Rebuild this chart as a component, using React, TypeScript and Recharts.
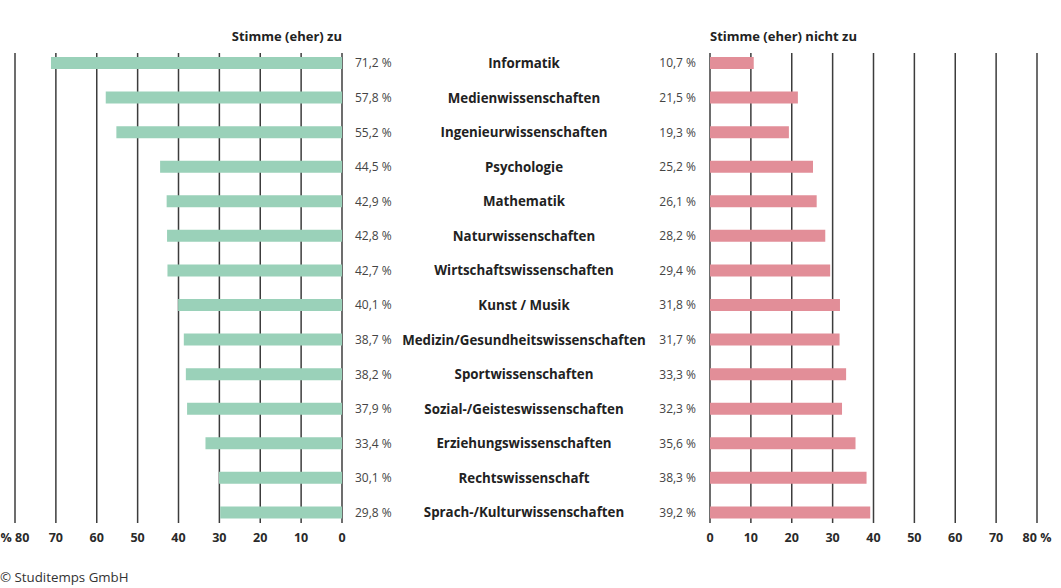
import React from "react";
import { BarChart, Bar, XAxis, YAxis, CartesianGrid } from "recharts";

const categories = [
  "Informatik",
  "Medienwissenschaften",
  "Ingenieurwissenschaften",
  "Psychologie",
  "Mathematik",
  "Naturwissenschaften",
  "Wirtschaftswissenschaften",
  "Kunst / Musik",
  "Medizin/Gesundheitswissenschaften",
  "Sportwissenschaften",
  "Sozial-/Geisteswissenschaften",
  "Erziehungswissenschaften",
  "Rechtswissenschaft",
  "Sprach-/Kulturwissenschaften",
];

const agreeValues = [71.2, 57.8, 55.2, 44.5, 42.9, 42.8, 42.7, 40.1, 38.7, 38.2, 37.9, 33.4, 30.1, 29.8];
const disagreeValues = [10.7, 21.5, 19.3, 25.2, 26.1, 28.2, 29.4, 31.8, 31.7, 33.3, 32.3, 35.6, 38.3, 39.2];
const axisTicks = [0, 10, 20, 30, 40, 50, 60, 70, 80];

const data = categories.map((category, i) => ({
  category,
  agree: agreeValues[i],
  disagree: disagreeValues[i],
}));

const W = 1061;
const H = 588;
const FONT = "'Open Sans', 'Noto Sans', sans-serif";
const GREEN = "#9ad1b9";
const PINK = "#e28e98";
const GRID = "#3c3c3c";

const fmt = (v: number) => v.toFixed(1).replace(".", ",") + " %";

const tickStyle = { fontFamily: FONT, fontSize: 12.5, fontWeight: 700, fill: "#2a2a2a" };

function MiddleTick(props: any) {
  const { y, payload } = props;
  const i = payload.index;
  return (
    <g fontFamily={FONT}>
      <text x={355} y={y} dy="0.35em" fontSize={12} fill="#444" textAnchor="start">
        {fmt(agreeValues[i])}
      </text>
      <text x={524} y={y} dy="0.35em" fontSize={13.3} fontWeight={700} fill="#222" textAnchor="middle">
        {payload.value}
      </text>
      <text x={696} y={y} dy="0.35em" fontSize={12} fill="#444" textAnchor="end">
        {fmt(disagreeValues[i])}
      </text>
    </g>
  );
}

export default function App() {
  return (
    <div style={{ position: "absolute", left: 0, top: 0, width: W, height: H, background: "#fff", fontFamily: FONT }}>
      <div style={{ position: "absolute", left: 0, top: 0 }}>
        <BarChart width={W} height={H} layout="vertical" data={data} margin={{ top: 46, right: 351, bottom: 28, left: 15 }}>
          <CartesianGrid horizontal={false} stroke={GRID} strokeWidth={1.5} y={53} height={470} />
          <XAxis
            type="number"
            domain={[0, 80]}
            ticks={axisTicks}
            reversed
            height={30}
            axisLine={false}
            tickLine={false}
            tickSize={0}
            tickMargin={3}
            tick={tickStyle}
            tickFormatter={(v: number) => (v === 80 ? "% 80" : String(v))}
            interval={0}
          />
          <YAxis
            type="category"
            dataKey="category"
            orientation="right"
            width={368}
            axisLine={false}
            tickLine={false}
            interval={0}
            tick={<MiddleTick />}
          />
          <Bar dataKey="agree" fill={GREEN} barSize={12} isAnimationActive={false} />
        </BarChart>
      </div>
      <div style={{ position: "absolute", left: 0, top: 0 }}>
        <BarChart width={W} height={H} layout="vertical" data={data} margin={{ top: 46, right: 24, bottom: 28, left: 710 }}>
          <CartesianGrid horizontal={false} stroke={GRID} strokeWidth={1.5} y={53} height={470} />
          <XAxis
            type="number"
            domain={[0, 80]}
            ticks={axisTicks}
            height={30}
            axisLine={false}
            tickLine={false}
            tickSize={0}
            tickMargin={3}
            tick={tickStyle}
            tickFormatter={(v: number) => (v === 80 ? "80 %" : String(v))}
            interval={0}
          />
          <YAxis type="category" dataKey="category" hide />
          <Bar dataKey="disagree" fill={PINK} barSize={12} isAnimationActive={false} />
        </BarChart>
      </div>
      <div
        style={{
          position: "absolute",
          right: W - 342,
          top: 27,
          fontSize: 13,
          fontWeight: 700,
          color: "#222",
          whiteSpace: "nowrap",
        }}
      >
        Stimme (eher) zu
      </div>
      <div
        style={{
          position: "absolute",
          left: 710,
          top: 27,
          fontSize: 13,
          fontWeight: 700,
          color: "#222",
          whiteSpace: "nowrap",
        }}
      >
        Stimme (eher) nicht zu
      </div>
      <div style={{ position: "absolute", left: 0, top: 568, fontSize: 13.3, color: "#333", whiteSpace: "nowrap" }}>
        © Studitemps GmbH
      </div>
    </div>
  );
}
